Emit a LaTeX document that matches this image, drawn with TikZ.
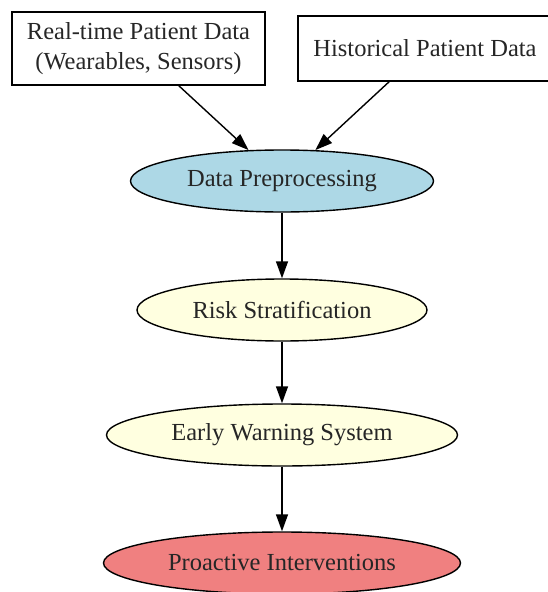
\documentclass[tikz,border=0pt]{standalone}
\usepackage{fontspec}
\setmainfont{Liberation Serif}
\usetikzlibrary{arrows.meta,shapes.geometric}
\definecolor{prefill}{HTML}{ADD8E6}
\definecolor{stagefill}{HTML}{FFFFE0}
\definecolor{actfill}{HTML}{F08080}
\begin{document}
\begin{tikzpicture}[x=1pt,y=-1pt,
  every node/.style={font=\fontsize{24.5}{30}\selectfont,text=black!85,inner sep=0pt},
  srcbox/.style={rectangle,draw,line width=1.4pt,align=center},
  stage/.style={ellipse,draw,line width=1.4pt,minimum height=62},
  >={Triangle[length=17pt,width=12pt]},
  line width=1.4pt]
\useasboundingbox (0,0) rectangle (547,592);
\coordinate (R) at (138.5,48.5);
\coordinate (H) at (425,48.5);
\coordinate (P) at (282,181);
\coordinate (S) at (282,310);
\coordinate (W) at (282,435);
\coordinate (I) at (282,563);

\node[srcbox,minimum width=253,minimum height=73] (R1) at (R) {Real-time Patient Data\\(Wearables, Sensors)};
\node[srcbox,minimum width=254,minimum height=65] (H1) at (H) {Historical Patient Data};
\node[stage,fill=prefill,minimum width=303] (P1) at (P) {Data Preprocessing};
\node[stage,fill=stagefill,minimum width=290] (S1) at (S) {Risk Stratification};
\node[stage,fill=stagefill,minimum width=351] (W1) at (W) {Early Warning System};
\node[stage,fill=actfill,minimum width=357] (I1) at (I) {Proactive Interventions};

\draw[->] (R1) -- (P1);
\draw[->] (H1) -- (P1);
\draw[->] (P1) -- (S1);
\draw[->] (S1) -- (W1);
\draw[->] (W1) -- (I1);

\end{tikzpicture}
\end{document}
